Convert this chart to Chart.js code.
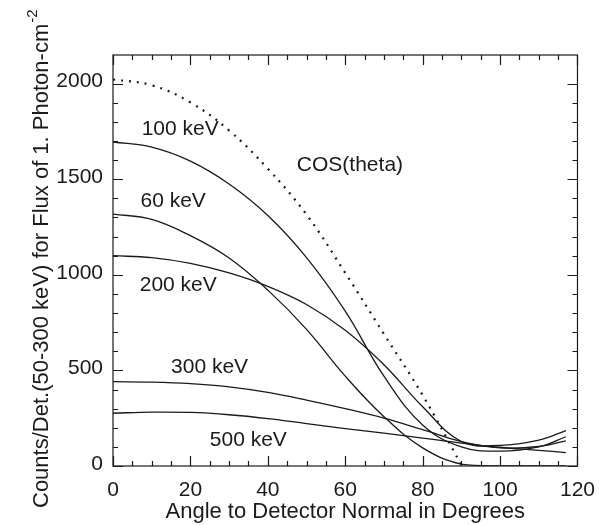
<!DOCTYPE html>
<html>
<head>
<meta charset="utf-8">
<script src="https://cdn.jsdelivr.net/npm/chart.js@4.4.1/dist/chart.umd.min.js"></script>
<style>
  body { margin: 0; background: #fff; }
  canvas { display: block; }
</style>
</head>
<body>
<canvas id="response-chart" width="607" height="525"></canvas>
<script>
// --- Response curves: counts vs. angle to detector normal ---
const angles = [0, 10, 20, 30, 40, 50, 60, 70, 80, 90, 100, 110, 117];
const counts60keV  = [1318, 1290, 1205, 1088, 920, 715, 470, 258, 95, 10, 0, 0, 0];
const counts100keV = [1695, 1668, 1595, 1475, 1310, 1090, 810, 470, 215, 100, 78, 100, 153];
const counts200keV = [1100, 1090, 1060, 1010, 940, 845, 710, 530, 310, 128, 108, 135, 185];
const counts300keV = [441, 439, 431, 414, 385, 345, 300, 250, 190, 128, 95, 102, 132];
const counts500keV = [276, 282, 280, 268, 248, 222, 196, 172, 146, 120, 98, 82, 70];

const cosAngles = [0, 10, 20, 30, 40, 50, 60, 70, 80, 90];
const cosCounts = [2022, 1992, 1902, 1755, 1555, 1315, 1010, 690, 370, 5];

const xLabelTicks = [0, 20, 40, 60, 80, 100, 120];
const yLabelTicks = [0, 500, 1000, 1500, 2000];

const FONT = "'Liberation Sans', Arial, Helvetica, sans-serif";
const INK = '#1a1a1a';

const toPoints = (xs, ys) => xs.map((x, i) => ({ x: x, y: ys[i] }));

const curve = (label, ys) => ({
    label: label,
    data: toPoints(angles, ys),
    borderColor: INK,
    borderWidth: 1.3,
    pointRadius: 0,
    tension: 0.4,
    fill: false
});

// --- Plugins ---
// frame plus inward major/minor ticks on all four sides
const frameTicks = {
    id: 'frameTicks',
    afterDatasetsDraw(chart) {
        const { ctx, chartArea: a, scales: { x, y } } = chart;
        ctx.save();
        ctx.strokeStyle = INK;
        ctx.lineWidth = 1.2;
        ctx.strokeRect(a.left, a.top, a.right - a.left, a.bottom - a.top);
        ctx.beginPath();
        x.ticks.forEach(t => {
            const px = Math.round(x.getPixelForValue(t.value)) + 0.5;
            const len = xLabelTicks.includes(t.value) ? 10 : 5;
            ctx.moveTo(px, a.bottom); ctx.lineTo(px, a.bottom - len);
            ctx.moveTo(px, a.top); ctx.lineTo(px, a.top + len);
        });
        y.ticks.forEach(t => {
            const py = Math.round(y.getPixelForValue(t.value)) + 0.5;
            const len = yLabelTicks.includes(t.value) ? 10 : 5;
            ctx.moveTo(a.left, py); ctx.lineTo(a.left + len, py);
            ctx.moveTo(a.right, py); ctx.lineTo(a.right - len, py);
        });
        ctx.stroke();
        ctx.restore();
    }
};

// curve names written next to their lines
const curveLabels = [
    { text: '100 keV', x: 7.4, y: 1760 },
    { text: '60 keV', x: 7.1, y: 1387 },
    { text: '200 keV', x: 6.9, y: 948 },
    { text: '300 keV', x: 15, y: 518 },
    { text: '500 keV', x: 25, y: 136 },
    { text: 'COS(theta)', x: 47.5, y: 1576 }
];

const textLabels = {
    id: 'textLabels',
    afterDraw(chart) {
        const { ctx, scales: { x, y } } = chart;
        ctx.save();
        ctx.fillStyle = INK;
        ctx.font = '21px ' + FONT;
        ctx.textAlign = 'left';
        ctx.textBaseline = 'middle';
        curveLabels.forEach(l => {
            ctx.fillText(l.text, x.getPixelForValue(l.x), y.getPixelForValue(l.y));
        });

        // rotated y title with a raised exponent
        const main = 'Counts/Det.(50-300 keV) for Flux of 1. Photon-cm';
        const sup = '-2';
        ctx.translate(48, 508);
        ctx.rotate(-Math.PI / 2);
        ctx.textBaseline = 'alphabetic';
        ctx.font = '22px ' + FONT;
        ctx.fillText(main, 0, 0);
        const w = ctx.measureText(main).width;
        ctx.font = '15px ' + FONT;
        ctx.fillText(sup, w + 1, -11);
        ctx.restore();
    }
};

new Chart(document.getElementById('response-chart'), {
    type: 'line',
    data: {
        datasets: [
            curve('100 keV', counts100keV),
            curve('60 keV', counts60keV),
            curve('200 keV', counts200keV),
            curve('300 keV', counts300keV),
            curve('500 keV', counts500keV),
            {
                label: 'COS(theta)',
                data: toPoints(cosAngles, cosCounts),
                borderColor: INK,
                borderWidth: 2.2,
                borderDash: [2, 6],
                pointRadius: 0,
                tension: 0.4,
                fill: false
            }
        ]
    },
    options: {
        responsive: false,
        animation: false,
        layout: { padding: { top: 55, right: 21, left: 0, bottom: 0 } },
        plugins: {
            legend: { display: false },
            tooltip: { enabled: false }
        },
        scales: {
            x: {
                type: 'linear',
                min: 0,
                max: 120,
                grid: { display: false, drawTicks: false },
                border: { display: false },
                ticks: {
                    stepSize: 5,
                    autoSkip: false,
                    maxRotation: 0,
                    padding: 12,
                    color: INK,
                    font: { family: FONT, size: 21 },
                    callback: v => (xLabelTicks.includes(v) ? String(v) : '')
                },
                title: {
                    display: true,
                    text: 'Angle to Detector Normal in Degrees',
                    color: INK,
                    font: { family: FONT, size: 22 },
                    padding: { top: 0, bottom: 0 }
                },
                afterFit: s => { s.height = 59; }
            },
            y: {
                type: 'linear',
                min: 0,
                max: 2150,
                grid: { display: false, drawTicks: false },
                border: { display: false },
                afterBuildTicks: s => { s.ticks = s.ticks.filter(t => t.value % 100 === 0); },
                ticks: {
                    stepSize: 100,
                    autoSkip: false,
                    padding: 10,
                    labelOffset: -2,
                    color: INK,
                    font: { family: FONT, size: 21 },
                    callback: v => (yLabelTicks.includes(v) ? String(v) : '')
                },
                afterFit: s => { s.width = 113; }
            }
        }
    },
    plugins: [frameTicks, textLabels]
});
</script>
</body>
</html>
